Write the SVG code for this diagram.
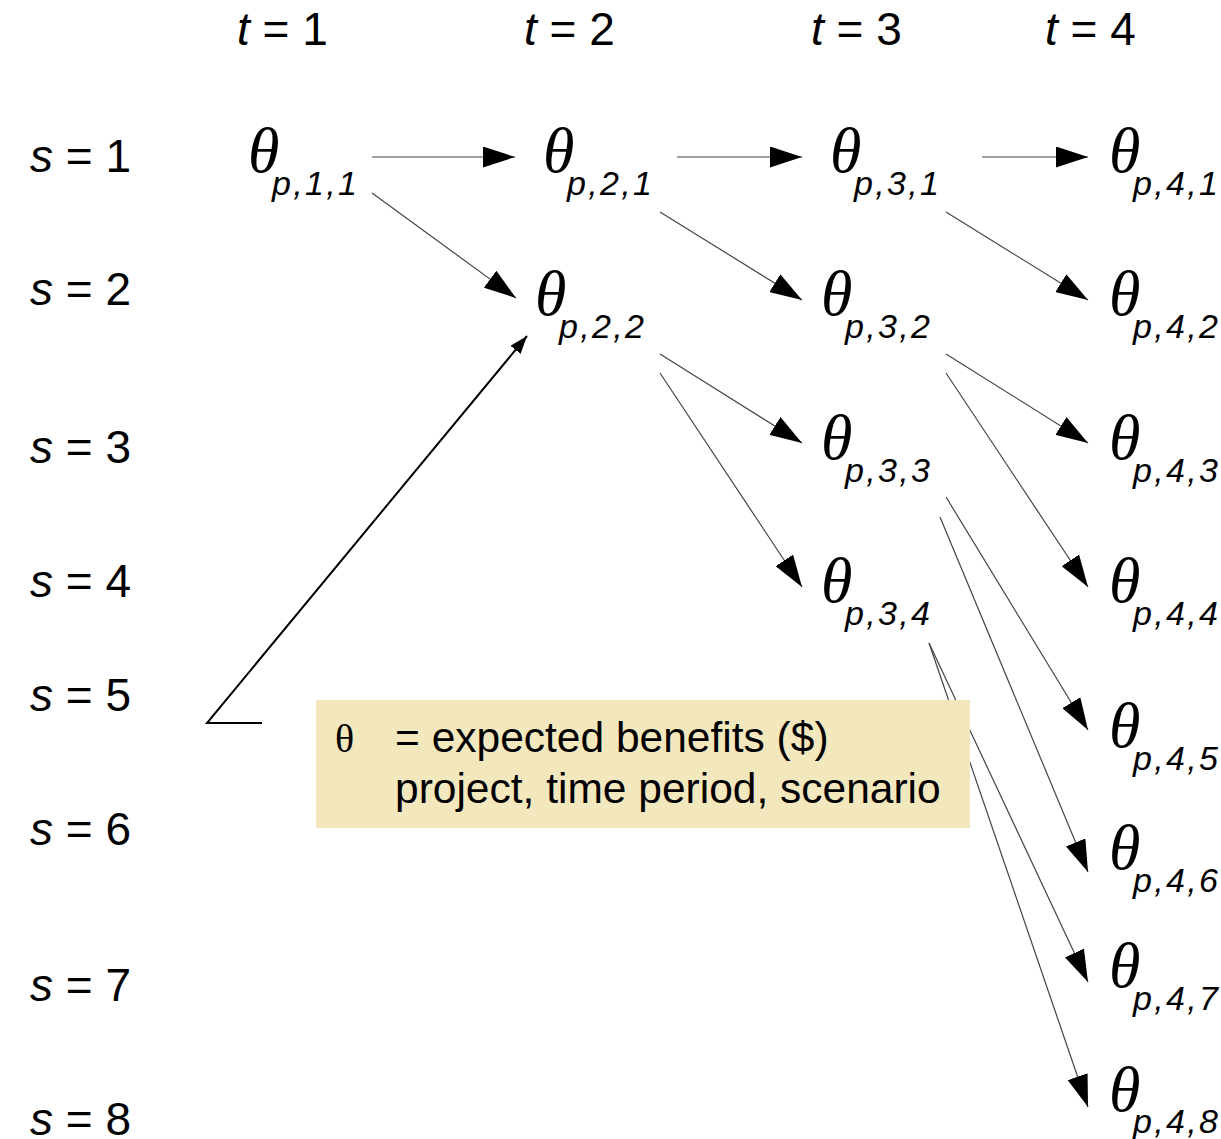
<svg xmlns="http://www.w3.org/2000/svg" width="1221" height="1139" viewBox="0 0 1221 1139">
<style>
.lbl{font-family:"Liberation Sans",Arial,sans-serif;font-size:46px;fill:#000}
.it{font-style:italic}
.th{font-family:"Liberation Serif","Times New Roman",serif;font-style:italic;font-size:64px;fill:#000}
.sub{font-family:"Liberation Sans",Arial,sans-serif;font-style:italic;font-size:34px;fill:#000}
.edge{stroke:#444;stroke-width:1.2;fill:none;marker-end:url(#ah)}
.call{stroke:#000;stroke-width:2;fill:none;marker-end:url(#ahs)}
.leg{font-family:"Liberation Sans",Arial,sans-serif;font-size:42.5px;fill:#000}
.legth{font-family:"Liberation Serif","Times New Roman",serif;font-size:40px;fill:#000}
</style>
<defs>
<marker id="ah" markerUnits="userSpaceOnUse" markerWidth="32" markerHeight="21" refX="32" refY="10.5" orient="auto">
<path d="M0,0 L32,10.5 L0,21 Z" fill="#000"/>
</marker>
<marker id="ahs" markerUnits="userSpaceOnUse" markerWidth="18" markerHeight="13" refX="18" refY="6.5" orient="auto">
<path d="M0,0 L18,6.5 L0,13 Z" fill="#000"/>
</marker>
</defs>
<rect width="1221" height="1139" fill="#fff"/>

<g id="time-labels">
<text class="lbl" x="237" y="45"><tspan class="it">t</tspan> = 1</text>
<text class="lbl" x="524" y="45"><tspan class="it">t</tspan> = 2</text>
<text class="lbl" x="811" y="45"><tspan class="it">t</tspan> = 3</text>
<text class="lbl" x="1045" y="45"><tspan class="it">t</tspan> = 4</text>
</g>
<g id="scenario-labels">
<text class="lbl" x="30" y="172"><tspan class="it">s</tspan> = 1</text>
<text class="lbl" x="30" y="305"><tspan class="it">s</tspan> = 2</text>
<text class="lbl" x="30" y="463"><tspan class="it">s</tspan> = 3</text>
<text class="lbl" x="30" y="597"><tspan class="it">s</tspan> = 4</text>
<text class="lbl" x="30" y="711"><tspan class="it">s</tspan> = 5</text>
<text class="lbl" x="30" y="845"><tspan class="it">s</tspan> = 6</text>
<text class="lbl" x="30" y="1001"><tspan class="it">s</tspan> = 7</text>
<text class="lbl" x="30" y="1135"><tspan class="it">s</tspan> = 8</text>
</g>

<g id="connectors">
<line class="edge" x1="372" y1="157" x2="515" y2="157"/>
<line class="edge" x1="372" y1="193" x2="516" y2="298"/>
<line class="edge" x1="677" y1="157" x2="802" y2="157"/>
<line class="edge" x1="660" y1="212" x2="802" y2="300"/>
<line class="edge" x1="660" y1="354" x2="802" y2="443"/>
<line class="edge" x1="660" y1="373" x2="802" y2="587"/>
<line class="edge" x1="982" y1="157" x2="1088" y2="157"/>
<line class="edge" x1="946" y1="212" x2="1088" y2="300"/>
<line class="edge" x1="946" y1="354" x2="1088" y2="443"/>
<line class="edge" x1="946" y1="373" x2="1088" y2="587"/>
<line class="edge" x1="946" y1="497" x2="1088" y2="730"/>
<line class="edge" x1="940" y1="517" x2="1088" y2="872"/>
<line class="edge" x1="929" y1="643" x2="1088" y2="982"/>
<line class="edge" x1="929" y1="643" x2="1088" y2="1107"/>
<polyline class="call" points="262,723 207,723 527,336"/>
</g>

<g id="n-p11"><text class="th" x="248" y="172">θ</text><text class="sub" x="272" y="195" textLength="85">p,1,1</text></g>
<g id="n-p21"><text class="th" x="543" y="172">θ</text><text class="sub" x="567" y="195" textLength="85">p,2,1</text></g>
<g id="n-p22"><text class="th" x="535" y="315">θ</text><text class="sub" x="559" y="338" textLength="85">p,2,2</text></g>
<g id="n-p31"><text class="th" x="830" y="172">θ</text><text class="sub" x="854" y="195" textLength="85">p,3,1</text></g>
<g id="n-p32"><text class="th" x="821" y="315">θ</text><text class="sub" x="845" y="338" textLength="85">p,3,2</text></g>
<g id="n-p33"><text class="th" x="821" y="459">θ</text><text class="sub" x="845" y="482" textLength="85">p,3,3</text></g>
<g id="n-p34"><text class="th" x="821" y="602">θ</text><text class="sub" x="845" y="625" textLength="85">p,3,4</text></g>
<g id="n-p41"><text class="th" x="1109" y="172">θ</text><text class="sub" x="1133" y="195" textLength="85">p,4,1</text></g>
<g id="n-p42"><text class="th" x="1109" y="315">θ</text><text class="sub" x="1133" y="338" textLength="85">p,4,2</text></g>
<g id="n-p43"><text class="th" x="1109" y="459">θ</text><text class="sub" x="1133" y="482" textLength="85">p,4,3</text></g>
<g id="n-p44"><text class="th" x="1109" y="602">θ</text><text class="sub" x="1133" y="625" textLength="85">p,4,4</text></g>
<g id="n-p45"><text class="th" x="1109" y="747">θ</text><text class="sub" x="1133" y="770" textLength="85">p,4,5</text></g>
<g id="n-p46"><text class="th" x="1109" y="869">θ</text><text class="sub" x="1133" y="892" textLength="85">p,4,6</text></g>
<g id="n-p47"><text class="th" x="1109" y="987">θ</text><text class="sub" x="1133" y="1010" textLength="85">p,4,7</text></g>
<g id="n-p48"><text class="th" x="1109" y="1111">θ</text><text class="sub" x="1133" y="1133" textLength="85">p,4,8</text></g>

<g id="legend">
<rect x="316" y="700" width="654" height="128" fill="#F3E7BE"/>
<text class="legth" x="335" y="752">θ</text>
<text class="leg" x="395" y="752">= expected benefits ($)</text>
<text class="leg" x="395" y="803">project, time period, scenario</text>
</g>
</svg>
